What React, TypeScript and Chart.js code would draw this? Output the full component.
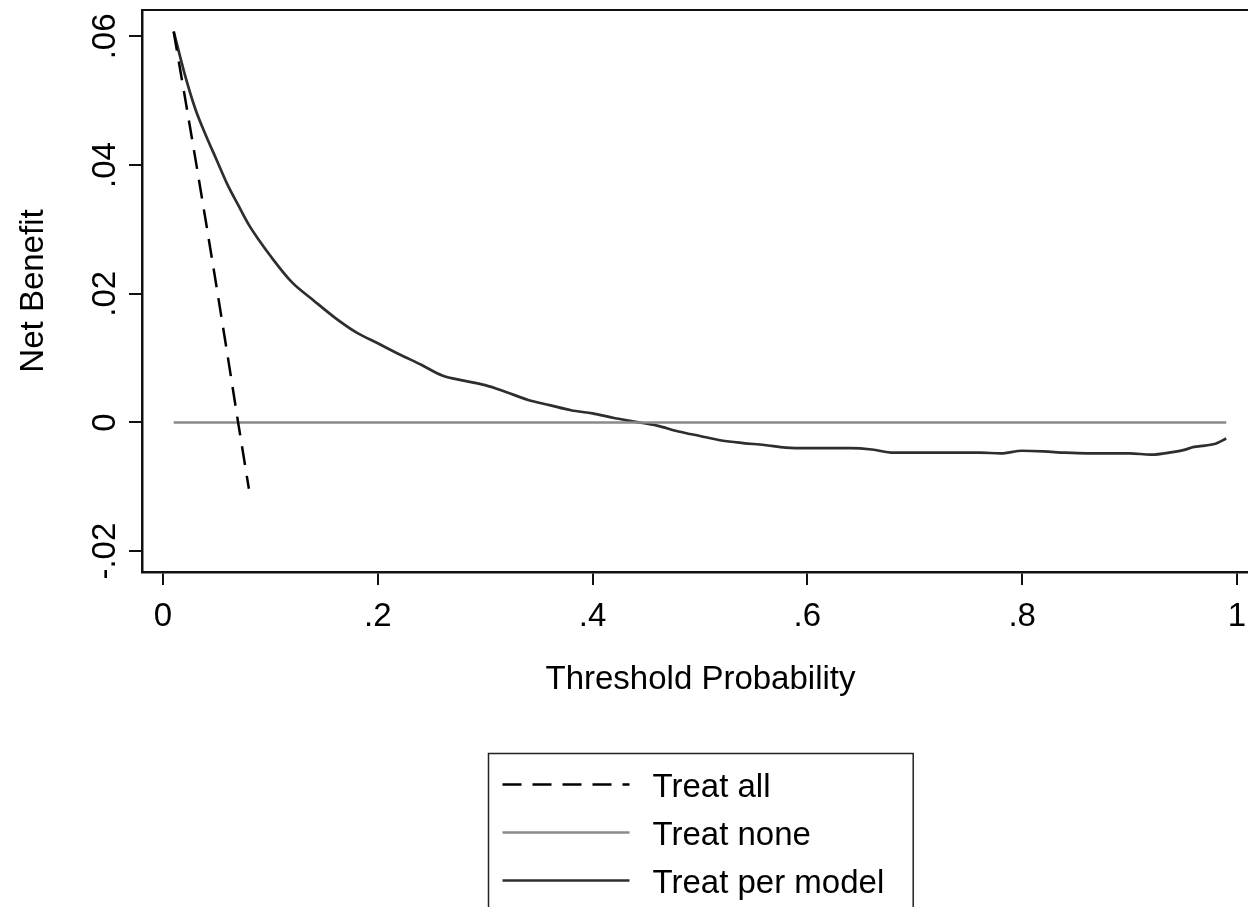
import React, { useEffect, useRef } from "react";
import { Chart, registerables } from "chart.js";

Chart.register(...registerables);

// ---- data ----
const seriesLabels = ["Treat all", "Treat none", "Treat per model"];

const treatAllThresholds = [0.01, 0.02, 0.03, 0.04, 0.05, 0.06, 0.07, 0.08];
const treatAllBenefit = [0.0607, 0.0510, 0.0412, 0.0312, 0.0210, 0.0106, 0.0000, -0.0103];

const treatNoneThresholds = [0.01, 0.99];
const treatNoneBenefit = [0, 0];

const modelThresholds = [
  0.01, 0.02, 0.03, 0.04, 0.05, 0.06, 0.07, 0.08, 0.09, 0.10,
  0.12, 0.14, 0.16, 0.18, 0.20, 0.22, 0.24, 0.26, 0.28, 0.30,
  0.32, 0.34, 0.36, 0.38, 0.40, 0.42, 0.44, 0.46, 0.48, 0.50,
  0.52, 0.54, 0.56, 0.58, 0.60, 0.62, 0.64, 0.66, 0.68, 0.70,
  0.72, 0.74, 0.76, 0.78, 0.80, 0.82, 0.84, 0.86, 0.88, 0.90,
  0.92, 0.94, 0.95, 0.96, 0.97, 0.98, 0.99,
];
const modelBenefit = [
  0.0608, 0.0543, 0.0488, 0.0446, 0.0408, 0.0370, 0.0338, 0.0307, 0.0282, 0.0259,
  0.0218, 0.0190, 0.0163, 0.0140, 0.0123, 0.0106, 0.0090, 0.0073, 0.0065, 0.0058,
  0.0047, 0.0035, 0.0027, 0.0019, 0.0014, 0.0007, 0.0001, -0.0005, -0.0014, -0.0021,
  -0.0028, -0.0032, -0.0035, -0.0039, -0.0040, -0.0040, -0.0040, -0.0042, -0.0047, -0.0047,
  -0.0047, -0.0047, -0.0047, -0.0048, -0.0044, -0.0045, -0.0047, -0.0048, -0.0048, -0.0048,
  -0.0050, -0.0046, -0.0043, -0.0038, -0.0036, -0.0033, -0.0025,
];

const xTicks = [0, 0.2, 0.4, 0.6, 0.8, 1];
const xTickLabels = ["0", ".2", ".4", ".6", ".8", "1"];
const yTicks = [-0.02, 0, 0.02, 0.04, 0.06];
const yTickLabels = ["-.02", "0", ".02", ".04", ".06"];

const xTitle = "Threshold Probability";
const yTitle = "Net Benefit";

const FONT_FAMILY = '"Liberation Sans", Arial, Helvetica, sans-serif';

const toPoints = (xs: number[], ys: number[]) => xs.map((x, i) => ({ x, y: ys[i] }));

const framePlugin = {
  id: "frame",
  afterDraw(chart: any) {
    const { ctx, chartArea } = chart;
    ctx.save();
    ctx.strokeStyle = "#111";
    ctx.lineWidth = 2;
    ctx.beginPath();
    ctx.moveTo(chartArea.left, chartArea.top);
    ctx.lineTo(chartArea.right, chartArea.top);
    ctx.lineTo(chartArea.right, chartArea.bottom);
    ctx.stroke();
    ctx.restore();
  },
};

const boxLegendPlugin = {
  id: "boxLegend",
  afterDraw(chart: any) {
    const { ctx, chartArea } = chart;
    const ds = chart.data.datasets;
    ctx.save();
    ctx.font = `33px ${FONT_FAMILY}`;
    const padL = 14, lineLen = 127, gap = 23, padR = 29, rowH = 48, padT = 31;
    const textW = Math.max(...ds.map((d: any) => ctx.measureText(d.label).width));
    const boxW = padL + lineLen + gap + textW + padR;
    const cx = (chartArea.left + chartArea.right) / 2;
    const left = Math.round(cx - boxW / 2) + 0.5;
    const top = chart.scales.x.bottom + 53.5;
    const boxH = padT * 2 + rowH * (ds.length - 1);
    ctx.strokeStyle = "#222";
    ctx.lineWidth = 1.5;
    ctx.strokeRect(left, top, boxW, boxH);
    ds.forEach((d: any, i: number) => {
      const y = top + padT + i * rowH;
      ctx.save();
      ctx.setLineDash(d.borderDash || []);
      ctx.strokeStyle = d.borderColor;
      ctx.lineWidth = d.borderWidth;
      ctx.beginPath();
      ctx.moveTo(left + padL, y);
      ctx.lineTo(left + padL + lineLen, y);
      ctx.stroke();
      ctx.restore();
      ctx.fillStyle = "#000";
      ctx.textBaseline = "middle";
      ctx.textAlign = "left";
      ctx.fillText(d.label, left + padL + lineLen + gap, y + 3);
    });
    ctx.restore();
  },
};

export default function App() {
  const canvasRef = useRef<HTMLCanvasElement | null>(null);

  useEffect(() => {
    if (!canvasRef.current) return;
    const chart = new Chart(canvasRef.current, {
      type: "line",
      data: {
        datasets: [
          {
            label: seriesLabels[0],
            data: toPoints(treatAllThresholds, treatAllBenefit),
            borderColor: "#000",
            borderWidth: 2.5,
            borderDash: [19, 11],
            pointRadius: 0,
            tension: 0,
            fill: false,
          },
          {
            label: seriesLabels[1],
            data: toPoints(treatNoneThresholds, treatNoneBenefit),
            borderColor: "#8a8a8a",
            borderWidth: 2.5,
            pointRadius: 0,
            tension: 0,
            fill: false,
          },
          {
            label: seriesLabels[2],
            data: toPoints(modelThresholds, modelBenefit),
            borderColor: "#2e2e2e",
            borderWidth: 2.7,
            pointRadius: 0,
            cubicInterpolationMode: "monotone",
            fill: false,
          },
        ],
      } as any,
      options: {
        animation: false,
        responsive: false,
        devicePixelRatio: 1,
        events: [],
        layout: { padding: { top: 10, right: 11, bottom: 207, left: 0 } },
        plugins: {
          legend: { display: false },
          tooltip: { enabled: false },
          title: { display: false },
        },
        scales: {
          x: {
            type: "linear",
            min: -0.0195,
            max: 1.0205,
            afterBuildTicks: (scale: any) => {
              scale.ticks = xTicks.map((v) => ({ value: v }));
            },
            afterFit: (scale: any) => {
              scale.height = 128;
              scale.paddingLeft = 0;
              scale.paddingRight = 0;
            },
            ticks: {
              autoSkip: false,
              maxRotation: 0,
              minRotation: 0,
              padding: 12,
              color: "#000",
              font: { family: FONT_FAMILY, size: 33 },
              callback: (_v: any, i: number) => xTickLabels[i],
            },
            grid: {
              display: true,
              drawOnChartArea: false,
              drawTicks: true,
              tickLength: 13,
              color: "#111",
              lineWidth: 2,
            },
            border: { display: true, color: "#111", width: 2.5 },
            title: {
              display: true,
              text: xTitle,
              color: "#000",
              font: { family: FONT_FAMILY, size: 33 },
              padding: { top: 0, bottom: 0 },
            },
          },
          y: {
            type: "linear",
            min: -0.02324,
            max: 0.0641,
            afterBuildTicks: (scale: any) => {
              scale.ticks = yTicks.map((v) => ({ value: v }));
            },
            afterFit: (scale: any) => {
              scale.width = 142;
              scale.paddingTop = 0;
              scale.paddingBottom = 0;
            },
            ticks: {
              autoSkip: false,
              minRotation: 90,
              maxRotation: 90,
              crossAlign: "center",
              padding: -5,
              color: "#000",
              font: { family: FONT_FAMILY, size: 33 },
              callback: (_v: any, i: number) => yTickLabels[i],
            },
            grid: {
              display: true,
              drawOnChartArea: false,
              drawTicks: true,
              tickLength: 13,
              color: "#111",
              lineWidth: 2,
            },
            border: { display: true, color: "#111", width: 2.5 },
            title: {
              display: true,
              text: yTitle,
              color: "#000",
              font: { family: FONT_FAMILY, size: 33 },
              padding: { top: 14, bottom: 0 },
            },
          },
        },
      } as any,
      plugins: [framePlugin, boxLegendPlugin],
    });
    return () => chart.destroy();
  }, []);

  return (
    <div
      style={{
        position: "fixed",
        left: 0,
        top: 0,
        width: 1248,
        height: 907,
        overflow: "hidden",
        background: "#fff",
      }}
    >
      <canvas ref={canvasRef} width={1270} height={907} style={{ display: "block" }} />
    </div>
  );
}
